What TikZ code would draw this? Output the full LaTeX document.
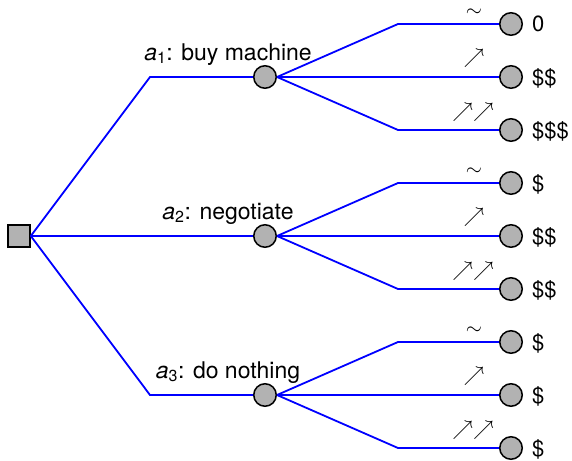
\documentclass[tikz,border=0pt]{standalone}
\usepackage{fontspec}
\setmainfont{TeX Gyre Heros}
\begin{document}
\begin{tikzpicture}[x=1pt,y=-1pt,
  conn/.style={draw=blue,line width=1.8pt},
  chance/.style={circle,draw=black,fill=black!30,line width=1.5pt,minimum size=22.5pt,inner sep=0pt},
  decision/.style={rectangle,draw=black,fill=black!30,line width=1.6pt,minimum size=22pt,inner sep=0pt},
  lbl/.style={font=\fontsize{23}{26}\selectfont,inner sep=0pt},
  leaf/.style={font=\fontsize{22}{25}\selectfont,inner sep=0pt},
  sym/.style={font=\fontsize{20}{22}\selectfont,inner sep=0pt}]
\useasboundingbox (0,0) rectangle (572,460);
\node[decision] (d) at (19,236) {};
% the three actions
\foreach \i/\y/\txt in {1/77/buy machine,2/236/negotiate,3/395/do nothing}{
  \coordinate (b\i) at (150,\y);
  \node[chance] (m\i) at (265,\y) {};
  \draw[conn] (d.east) -- (b\i) -- (m\i);
  \node[lbl,anchor=base] (t\i) at (228,\y-17) {\textit{a}\textsubscript{\fontsize{16}{16}\selectfont\i}: \txt};
}
% outcomes of each action
\foreach \i/\y/\va/\vb/\vc in {1/77/0/\$\$/\$\$\$,2/236/\$/\$\$/\$\$,3/395/\$/\$/\$}{
  \coordinate (u\i) at (398,\y-53);
  \coordinate (l\i) at (398,\y+53);
  \node[chance] (oa\i) at (511,\y-53) {};
  \node[chance] (ob\i) at (511,\y) {};
  \node[chance] (oc\i) at (511,\y+53) {};
  \draw[conn] (m\i.east) -- (u\i) -- (oa\i);
  \draw[conn] (m\i.east) -- (ob\i);
  \draw[conn] (m\i.east) -- (l\i) -- (oc\i);
  \node[leaf,anchor=base west] (va\i) at (532,\y-53+8) {\va};
  \node[leaf,anchor=base west] (vb\i) at (532,\y+8) {\vb};
  \node[leaf,anchor=base west] (vc\i) at (532,\y+53+8) {\vc};
  \node[sym] (sa\i) at (474,\y-64) {$\sim$};
  \node[sym] (sb\i) at (474,\y-19) {$\nearrow$};
  \node[sym] (sc\i) at (473,\y+35) {$\nearrow\nearrow$};
}
\end{tikzpicture}
\end{document}
